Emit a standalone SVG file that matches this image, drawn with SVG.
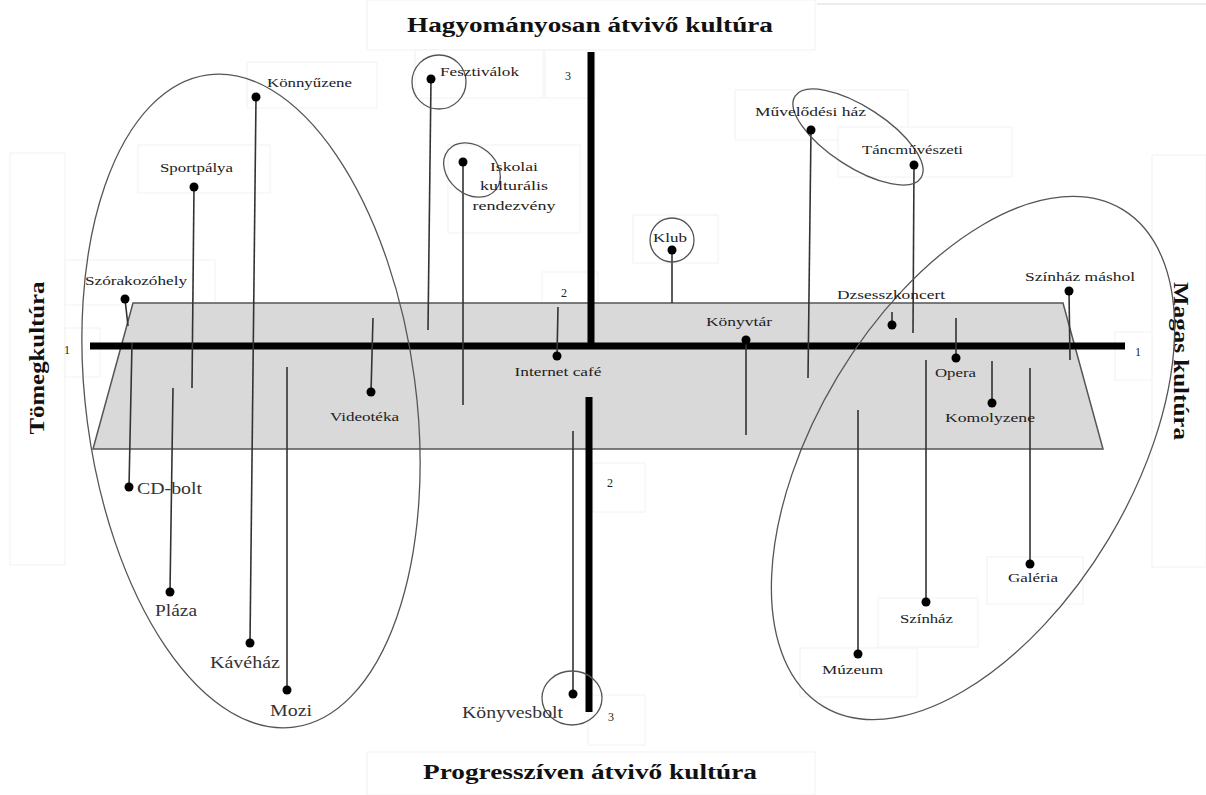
<svg xmlns="http://www.w3.org/2000/svg" width="1206" height="795" viewBox="0 0 1206 795">
<style>
.bx{fill:#fff;stroke:#f2f2f2;stroke-width:1}
.lbl{font-family:"Liberation Serif","DejaVu Serif",serif;font-size:12px;fill:#222}
.big{font-family:"Liberation Serif","DejaVu Serif",serif;font-size:16px;fill:#333}
.num{font-family:"Liberation Serif","DejaVu Serif",serif;font-size:12px;fill:#222}
.ttl{font-family:"Liberation Serif","DejaVu Serif",serif;font-size:20px;font-weight:bold;fill:#111}
.ln{stroke:#333;stroke-width:1.6;fill:none}
.dot{fill:#000}
.ring{fill:none;stroke:#555;stroke-width:1.3}
.axis{stroke:#000;stroke-width:7;fill:none}
</style>
<rect width="1206" height="795" fill="#fff"/>
<!-- faint label boxes -->
<g id="boxes">
<line x1="817" y1="4" x2="1206" y2="4" stroke="#e6e6e6" stroke-width="1.5"/>
<rect class="bx" x="367" y="0" width="448" height="50"/>
<rect class="bx" x="367" y="752" width="448" height="43"/>
<rect class="bx" x="10" y="153" width="55" height="412"/>
<rect class="bx" x="1152" y="155" width="54" height="412"/>
<rect class="bx" x="65" y="328" width="35" height="49"/>
<rect class="bx" x="1115" y="332" width="37" height="48"/>
<rect class="bx" x="247" y="62" width="130" height="46"/>
<rect class="bx" x="138" y="145" width="132" height="48"/>
<rect class="bx" x="65" y="260" width="150" height="45"/>
<rect class="bx" x="415" y="50" width="128" height="48"/>
<rect class="bx" x="545" y="50" width="50" height="48"/>
<rect class="bx" x="448" y="145" width="132" height="88"/>
<rect class="bx" x="633" y="215" width="85" height="48"/>
<rect class="bx" x="542" y="272" width="56" height="31"/>
<rect class="bx" x="735" y="90" width="173" height="50"/>
<rect class="bx" x="838" y="127" width="174" height="50"/>
<rect class="bx" x="987" y="557" width="96" height="47"/>
<rect class="bx" x="878" y="598" width="100" height="49"/>
<rect class="bx" x="800" y="648" width="117" height="49"/>
<rect class="bx" x="593" y="463" width="52" height="49"/>
<rect class="bx" x="588" y="695" width="57" height="50"/>
</g>
<!-- central band -->
<polygon id="band" points="133,303 1063,303 1103,449 93,449" fill="#d9d9d9" stroke="#555" stroke-width="1.5"/>
<!-- axes -->
<g id="axes">
<line class="axis" x1="90" y1="346" x2="1125" y2="346"/>
<line class="axis" x1="591" y1="52" x2="591" y2="346" stroke-width="8"/>
<line class="axis" x1="589" y1="397" x2="589" y2="712" stroke-width="8"/>
<text class="num" x="67" y="354" text-anchor="middle">1</text>
<text class="num" x="1138" y="356" text-anchor="middle">1</text>
<text class="num" x="568" y="80" text-anchor="middle">3</text>
<text class="num" x="564" y="297" text-anchor="middle">2</text>
<text class="num" x="610" y="487" text-anchor="middle">2</text>
<text class="num" x="611" y="721" text-anchor="middle">3</text>
</g>
<!-- axis titles -->
<g id="titles">
<text class="ttl" x="590" y="32" text-anchor="middle" textLength="366" lengthAdjust="spacingAndGlyphs">Hagyományosan átvivő kultúra</text>
<text class="ttl" x="590" y="779" text-anchor="middle" textLength="334" lengthAdjust="spacingAndGlyphs">Progresszíven átvivő kultúra</text>
<text class="ttl" transform="translate(44 358) rotate(-90)" x="0" y="0" text-anchor="middle" textLength="153" lengthAdjust="spacingAndGlyphs">Tömegkultúra</text>
<text class="ttl" transform="translate(1174 361) rotate(90)" x="0" y="0" text-anchor="middle" textLength="158" lengthAdjust="spacingAndGlyphs">Magas kultúra</text>
</g>
<!-- connectors -->
<g id="connectors">
<line class="ln" x1="256" y1="97" x2="250" y2="643"/>
<line class="ln" x1="194" y1="187" x2="192" y2="388"/>
<line class="ln" x1="125" y1="299" x2="128" y2="326"/>
<line class="ln" x1="132" y1="343" x2="129" y2="487"/>
<line class="ln" x1="173" y1="388" x2="170" y2="592"/>
<line class="ln" x1="287" y1="367" x2="287" y2="690"/>
<line class="ln" x1="373" y1="318" x2="371" y2="392"/>
<line class="ln" x1="431" y1="79" x2="428" y2="330"/>
<line class="ln" x1="463" y1="162" x2="463" y2="405"/>
<line class="ln" x1="558" y1="307" x2="557" y2="356"/>
<line class="ln" x1="672" y1="250" x2="672" y2="303"/>
<line class="ln" x1="573" y1="431" x2="573" y2="694"/>
<line class="ln" x1="746" y1="340" x2="746" y2="435"/>
<line class="ln" x1="811" y1="130" x2="808" y2="378"/>
<line class="ln" x1="914" y1="165" x2="913" y2="333"/>
<line class="ln" x1="892" y1="312" x2="892" y2="325"/>
<line class="ln" x1="956" y1="318" x2="956" y2="358"/>
<line class="ln" x1="992" y1="361" x2="992" y2="403"/>
<line class="ln" x1="1069" y1="291" x2="1070" y2="360"/>
<line class="ln" x1="858" y1="410" x2="858" y2="654"/>
<line class="ln" x1="926" y1="360" x2="926" y2="602"/>
<line class="ln" x1="1030" y1="368" x2="1030" y2="564"/>
</g>
<!-- grouping rings -->
<g id="rings">
<ellipse class="ring" cx="251" cy="401" rx="165" ry="329" transform="rotate(-7.5 251 401)"/>
<ellipse class="ring" cx="973" cy="458" rx="158" ry="290" transform="rotate(31 973 458)"/>
<circle class="ring" cx="439" cy="82" r="27"/>
<ellipse class="ring" cx="472" cy="170" rx="31" ry="24" transform="rotate(40 472 170)"/>
<circle class="ring" cx="672" cy="240" r="22"/>
<ellipse class="ring" cx="858" cy="137" rx="75" ry="30" transform="rotate(33 858 137)"/>
<ellipse class="ring" cx="572" cy="698" rx="30" ry="27"/>
</g>
<!-- nodes -->
<g id="n-konnyuzene"><circle class="dot" cx="256" cy="97" r="4.5"/><text class="lbl" x="267" y="87" textLength="85" lengthAdjust="spacingAndGlyphs">Könnyűzene</text></g>
<g id="n-sportpalya"><circle class="dot" cx="194" cy="187" r="4.5"/><text class="lbl" x="160" y="172" textLength="73" lengthAdjust="spacingAndGlyphs">Sportpálya</text></g>
<g id="n-szorakozohely"><circle class="dot" cx="125" cy="299" r="4.5"/><text class="lbl" x="85" y="285" textLength="102" lengthAdjust="spacingAndGlyphs">Szórakozóhely</text></g>
<g id="n-cdbolt"><circle class="dot" cx="129" cy="487" r="4.5"/><text class="big" x="137" y="494" textLength="65" lengthAdjust="spacingAndGlyphs">CD-bolt</text></g>
<g id="n-plaza"><circle class="dot" cx="170" cy="592" r="4.5"/><text class="big" x="155" y="616" textLength="42" lengthAdjust="spacingAndGlyphs">Pláza</text></g>
<g id="n-kavehaz"><circle class="dot" cx="250" cy="643" r="4.5"/><text class="big" x="210" y="668" textLength="70" lengthAdjust="spacingAndGlyphs">Kávéház</text></g>
<g id="n-mozi"><circle class="dot" cx="287" cy="690" r="4.5"/><text class="big" x="270" y="716" textLength="42" lengthAdjust="spacingAndGlyphs">Mozi</text></g>
<g id="n-videoteka"><circle class="dot" cx="371" cy="392" r="4.5"/><text class="lbl" x="330" y="421" textLength="69" lengthAdjust="spacingAndGlyphs">Videotéka</text></g>
<g id="n-fesztivalok"><circle class="dot" cx="431" cy="79" r="4.5"/><text class="lbl" x="440" y="76" textLength="79" lengthAdjust="spacingAndGlyphs">Fesztiválok</text></g>
<g id="n-iskolai"><circle class="dot" cx="463" cy="162" r="4.5"/>
<text class="lbl" x="514" y="171" text-anchor="middle" textLength="48" lengthAdjust="spacingAndGlyphs">Iskolai</text>
<text class="lbl" x="514" y="190" text-anchor="middle" textLength="68" lengthAdjust="spacingAndGlyphs">kulturális</text>
<text class="lbl" x="514" y="210" text-anchor="middle" textLength="83" lengthAdjust="spacingAndGlyphs">rendezvény</text></g>
<g id="n-klub"><circle class="dot" cx="672" cy="250" r="4.5"/><text class="lbl" x="670" y="242" text-anchor="middle" textLength="34" lengthAdjust="spacingAndGlyphs">Klub</text></g>
<g id="n-internetcafe"><circle class="dot" cx="557" cy="356" r="4.5"/><text class="lbl" x="558" y="376" text-anchor="middle" textLength="87" lengthAdjust="spacingAndGlyphs">Internet café</text></g>
<g id="n-konyvesbolt"><circle class="dot" cx="573" cy="694" r="4.5"/><text class="big" x="462" y="718" textLength="101" lengthAdjust="spacingAndGlyphs">Könyvesbolt</text></g>
<g id="n-konyvtar"><circle class="dot" cx="746" cy="340" r="4.5"/><text class="lbl" x="706" y="326" textLength="66" lengthAdjust="spacingAndGlyphs">Könyvtár</text></g>
<g id="n-muvelodesihaz"><circle class="dot" cx="811" cy="130" r="4.5"/><text class="lbl" x="755" y="116" textLength="111" lengthAdjust="spacingAndGlyphs">Művelődési ház</text></g>
<g id="n-tancmuveszeti"><circle class="dot" cx="914" cy="165" r="4.5"/><text class="lbl" x="862" y="154" textLength="101" lengthAdjust="spacingAndGlyphs">Táncművészeti</text></g>
<g id="n-dzsesszkoncert"><circle class="dot" cx="892" cy="325" r="4.5"/><text class="lbl" x="837" y="299" textLength="108" lengthAdjust="spacingAndGlyphs">Dzsesszkoncert</text></g>
<g id="n-szinhazmashol"><circle class="dot" cx="1069" cy="291" r="4.5"/><text class="lbl" x="1025" y="281" textLength="110" lengthAdjust="spacingAndGlyphs">Színház máshol</text></g>
<g id="n-opera"><circle class="dot" cx="956" cy="358" r="4.5"/><text class="lbl" x="935" y="377" textLength="41" lengthAdjust="spacingAndGlyphs">Opera</text></g>
<g id="n-komolyzene"><circle class="dot" cx="992" cy="403" r="4.5"/><text class="lbl" x="945" y="422" textLength="90" lengthAdjust="spacingAndGlyphs">Komolyzene</text></g>
<g id="n-galeria"><circle class="dot" cx="1030" cy="564" r="4.5"/><text class="lbl" x="1008" y="582" textLength="50" lengthAdjust="spacingAndGlyphs">Galéria</text></g>
<g id="n-szinhaz"><circle class="dot" cx="926" cy="602" r="4.5"/><text class="lbl" x="900" y="623" textLength="53" lengthAdjust="spacingAndGlyphs">Színház</text></g>
<g id="n-muzeum"><circle class="dot" cx="858" cy="654" r="4.5"/><text class="lbl" x="822" y="674" textLength="61" lengthAdjust="spacingAndGlyphs">Múzeum</text></g>
</svg>
